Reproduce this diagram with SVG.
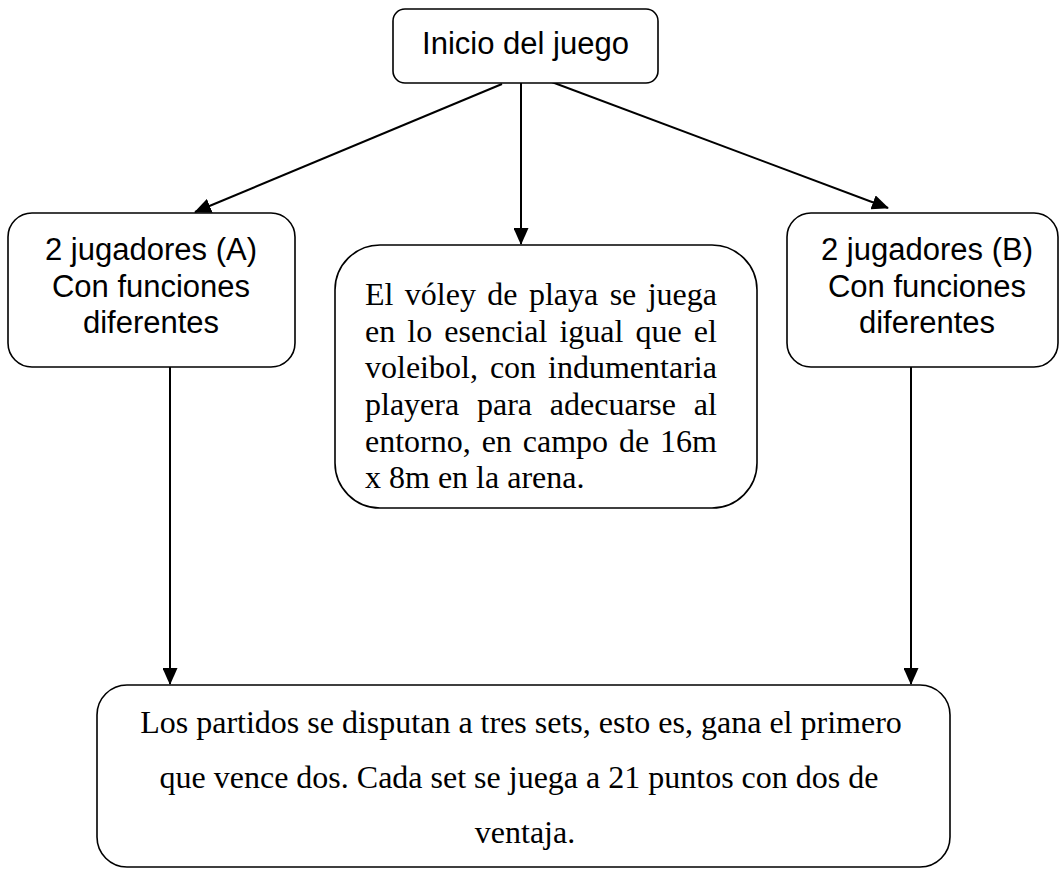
<svg xmlns="http://www.w3.org/2000/svg" width="1060" height="870" viewBox="0 0 1060 870">
<defs>
<style>
.box{fill:#fff;stroke:#000;stroke-width:1.6}
.sans{font-family:"Liberation Sans",Arial,sans-serif;font-size:31px;fill:#000;text-anchor:middle}
.serif{font-family:"Liberation Serif","Times New Roman",serif;font-size:32px;fill:#000}
.edge{stroke:#000;stroke-width:2;fill:none;marker-end:url(#ah)}
</style>
<marker id="ah" markerUnits="userSpaceOnUse" markerWidth="17" markerHeight="15" refX="16" refY="7.5" orient="auto">
<path d="M0,0 L17,7.5 L0,15 Z" fill="#000"/>
</marker>
</defs>
<rect width="1060" height="870" fill="#fff"/>
<g id="connectors">
<line class="edge" x1="502" y1="84" x2="195" y2="212"/>
<line class="edge" x1="521" y1="73" x2="521" y2="244"/>
<line class="edge" x1="533" y1="75" x2="888" y2="208"/>
<line class="edge" x1="170" y1="367" x2="170" y2="684"/>
<line class="edge" x1="911" y1="367" x2="911" y2="684"/>
</g>
<g id="inicio">
<rect class="box" x="393" y="9" width="265" height="74" rx="12"/>
<text class="sans" x="525.5" y="54">Inicio del juego</text>
</g>
<g id="jugadoresA">
<rect class="box" x="8" y="213" width="287" height="154" rx="24"/>
<text class="sans" x="151" y="260">2 jugadores (A)</text>
<text class="sans" x="151" y="296.5">Con funciones</text>
<text class="sans" x="151" y="333">diferentes</text>
</g>
<g id="descripcion">
<rect class="box" x="335" y="245" width="422" height="263" rx="45"/>
<text class="serif" x="365" y="305" word-spacing="3.4">El vóley de playa se juega</text>
<text class="serif" x="365" y="342" word-spacing="4.1">en lo esencial igual que el</text>
<text class="serif" x="365" y="378" word-spacing="4">voleibol, con indumentaria</text>
<text class="serif" x="365" y="415" word-spacing="9.8">playera para adecuarse al</text>
<text class="serif" x="365" y="452" word-spacing="2.9">entorno, en campo de 16m</text>
<text class="serif" x="365" y="488">x 8m en la arena.</text>
</g>
<g id="jugadoresB">
<rect class="box" x="787" y="213" width="271" height="154" rx="24"/>
<text class="sans" x="927" y="260">2 jugadores (B)</text>
<text class="sans" x="927" y="296.5">Con funciones</text>
<text class="sans" x="927" y="333">diferentes</text>
</g>
<g id="partidos">
<rect class="box" x="97" y="685" width="853" height="182" rx="30"/>
<text class="serif" x="521" y="733" text-anchor="middle">Los partidos se disputan a tres sets, esto es, gana el primero</text>
<text class="serif" x="519" y="788" text-anchor="middle">que vence dos. Cada set se juega a 21 puntos con dos de</text>
<text class="serif" x="525" y="843" text-anchor="middle">ventaja.</text>
</g>
</svg>
